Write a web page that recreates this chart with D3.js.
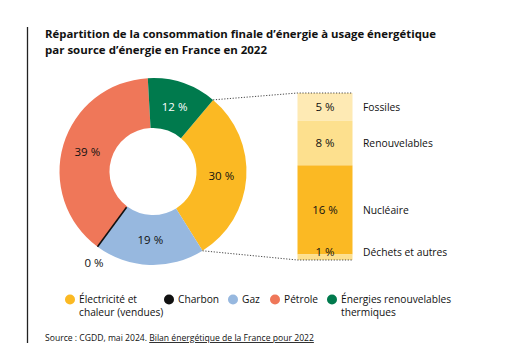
<!DOCTYPE html>
<html>
<head>
<meta charset="utf-8">
<script src="https://cdn.jsdelivr.net/npm/d3@7"></script>
<style>
  body { margin: 0; background: #fff; }
  svg { display: block; font-family: "Open Sans", "Noto Sans", sans-serif; }
</style>
</head>
<body>
<svg width="507" height="346"></svg>
<script>
// categories in legend order, shares in % of final energy consumption
var categories = ["Électricité et chaleur (vendues)", "Charbon", "Gaz", "Pétrole", "Énergies renouvelables thermiques"];
var shares = [30, 0, 19, 39, 12];
var colors = ["#fbb923", "#111111", "#97b8df", "#ef7759", "#007a4d"];
// order of the slices around the ring (clockwise)
var ringOrder = [0, 2, 1, 3, 4];

// breakdown of the electricity/heat slice
var subSources = ["Fossiles", "Renouvelables", "Nucléaire", "Déchets et autres"];
var subShares = [5, 8, 16, 1];
var subColors = ["#feeab4", "#fde08e", "#fbb923", "#fde08e"];

var legendLines = [["Électricité et", "chaleur (vendues)"], ["Charbon"], ["Gaz"], ["Pétrole"], ["Énergies renouvelables", "thermiques"]];
var titleLines = ["Répartition de la consommation finale d’énergie à usage énergétique",
                  "par source d’énergie en France en 2022"];

var svg = d3.select("svg");

svg.append("rect").attr("width", 507).attr("height", 346).attr("fill", "#fff");

// left rule
svg.append("line")
  .attr("x1", 27.5).attr("x2", 27.5).attr("y1", 27).attr("y2", 343)
  .attr("stroke", "#222").attr("stroke-width", 1.3);

// title, each line fitted to its width
var titleLen = [391, 222];
titleLines.forEach(function(t, i) {
  svg.append("text")
    .attr("x", 45).attr("y", 38.3 + i * 15.5)
    .attr("font-weight", 700).attr("font-size", 11.3).attr("fill", "#111")
    .attr("textLength", titleLen[i]).attr("lengthAdjust", "spacingAndGlyphs")
    .text(t);
});

// donut
var cx = 153, cy = 171.5, rOut = 93.5, rIn = 43.5;
var startA = 40 * Math.PI / 180;
var g = svg.append("g").attr("transform", "translate(" + cx + "," + cy + ")");

var pie = d3.pie().sort(null).value(function(i) { return shares[i]; })
  .startAngle(startA).endAngle(startA + 2 * Math.PI);
var arcs = pie(ringOrder);
var arc = d3.arc().innerRadius(rIn).outerRadius(rOut);

g.selectAll("path.slice")
  .data(arcs.filter(function(d) { return d.value > 0; }))
  .join("path")
  .attr("class", "slice")
  .attr("d", arc)
  .attr("fill", function(d) { return colors[d.data]; });

// zero-share slice shown as a thin line
arcs.filter(function(d) { return d.value === 0; }).forEach(function(d) {
  var p0 = d3.pointRadial(d.startAngle, rIn + 1), p1 = d3.pointRadial(d.startAngle, rOut);
  g.append("line")
    .attr("x1", p0[0]).attr("y1", p0[1]).attr("x2", p1[0]).attr("y2", p1[1])
    .attr("stroke", colors[d.data]).attr("stroke-width", 1.6);
  var pl = d3.pointRadial(d.startAngle - 0.06, rOut + 15);
  g.append("text")
    .attr("x", pl[0]).attr("y", pl[1]).attr("dy", "0.35em")
    .attr("text-anchor", "middle").attr("font-size", 11.5).attr("fill", "#111")
    .text(d.value + " %");
});

g.selectAll("text.val")
  .data(arcs.filter(function(d) { return d.value > 0; }))
  .join("text")
  .attr("class", "val")
  .attr("transform", function(d) { return "translate(" + arc.centroid(d) + ")"; })
  .attr("dy", "0.35em")
  .attr("text-anchor", "middle").attr("font-size", 11.5)
  .attr("fill", function(d) { return d.data === 4 ? "#fff" : "#111"; })
  .text(function(d) { return d.value + " %"; });

// stacked bar for the electricity/heat slice
var barX = 297.5, barW = 55;
var y = d3.scaleLinear().domain([0, d3.sum(subShares)]).range([93, 260]);
var stack = [];
subShares.reduce(function(acc, v, i) { stack.push({ i: i, y0: acc, y1: acc + v }); return acc + v; }, 0);

svg.selectAll("rect.sub").data(stack).join("rect")
  .attr("class", "sub")
  .attr("x", barX).attr("width", barW)
  .attr("y", function(d) { return y(d.y0); })
  .attr("height", function(d) { return y(d.y1) - y(d.y0); })
  .attr("fill", function(d) { return subColors[d.i]; });

function labelY(d) {
  // the thin last segment carries its label just above its top
  return y(d.y1) - y(d.y0) < 12 ? y(d.y1) - 8 : (y(d.y0) + y(d.y1)) / 2;
}

svg.selectAll("text.subval").data(stack).join("text")
  .attr("class", "subval")
  .attr("x", barX + barW / 2).attr("y", labelY).attr("dy", "0.35em")
  .attr("text-anchor", "middle").attr("font-size", 11.5).attr("fill", "#111")
  .text(function(d) { return subShares[d.i] + " %"; });

svg.selectAll("text.subname").data(stack).join("text")
  .attr("class", "subname")
  .attr("x", 363).attr("y", labelY).attr("dy", "0.35em")
  .attr("font-size", 10.3).attr("fill", "#111")
  .text(function(d) { return subSources[d.i]; });

// dotted connectors from the electricity slice to the bar
var elec = arcs.find(function(d) { return d.data === 0; });
[[elec.startAngle, y(0)], [elec.endAngle, y(d3.sum(subShares))]].forEach(function(c) {
  var p = d3.pointRadial(c[0], rOut);
  svg.append("path")
    .attr("d", "M" + (cx + p[0]) + "," + (cy + p[1]) + "L" + barX + "," + c[1] + "H" + (barX + barW))
    .attr("fill", "none").attr("stroke", "#333").attr("stroke-width", 0.9)
    .attr("stroke-dasharray", "1.2,1.6");
});

// legend
var legendX = [70, 169, 233, 275, 332];
var legend = svg.selectAll("g.leg").data(categories).join("g")
  .attr("class", "leg")
  .attr("transform", function(d, i) { return "translate(" + legendX[i] + ",299.5)"; });
legend.append("circle").attr("r", 5).attr("fill", function(d, i) { return colors[i]; });
legend.each(function(d, i) {
  var t = d3.select(this).append("text").attr("font-size", 10.2).attr("fill", "#111");
  legendLines[i].forEach(function(line, k) {
    t.append("tspan").attr("x", 9).attr("y", 3.5 + k * 12.5).text(line);
  });
});

// source
var src = svg.append("text").attr("x", 45).attr("y", 341).attr("font-size", 8.6).attr("fill", "#111");
src.append("tspan").text("Source : CGDD, mai 2024. ");
src.append("tspan").attr("text-decoration", "underline").text("Bilan énergétique de la France pour 2022");
</script>
</body>
</html>
